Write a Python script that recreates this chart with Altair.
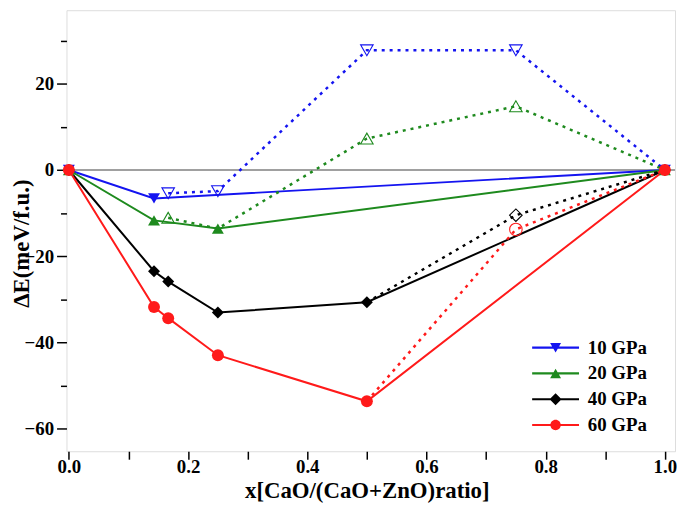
import altair as alt
import pandas as pd

series = ["10 GPa", "20 GPa", "40 GPa", "60 GPa"]
colors = ["#1414f0", "#1e8a1e", "#000000", "#ff1a1a"]

# stable compositions (solid hull)
x_10 = [0, 1/7, 1]
y_10 = [0, -6.6, 0]
x_20 = [0, 1/7, 0.25, 1]
y_20 = [0, -11.7, -13.6, 0]
x_40 = [0, 1/7, 1/6, 0.25, 0.5, 1]
y_40 = [0, -23.5, -25.9, -33.1, -30.7, 0]
x_60 = [0, 1/7, 1/6, 0.25, 0.5, 1]
y_60 = [0, -31.8, -34.4, -43.0, -53.7, 0]

# metastable path (dotted)
dx_10 = [1/6, 0.25, 0.5, 0.75, 1]
dy_10 = [-5.4, -4.9, 27.8, 27.8, 0]
dx_20 = [1/6, 0.25, 0.5, 0.75, 1]
dy_20 = [-11.1, -13.6, 7.3, 14.8, 0]
dx_40 = [0.5, 0.75, 1]
dy_40 = [-30.7, -10.5, 0]
dx_60 = [0.5, 0.75, 1]
dy_60 = [-53.7, -13.8, 0]

# open (metastable) markers
ox_10 = [1/6, 0.25, 0.5, 0.75]
oy_10 = [-5.4, -4.9, 27.8, 27.8]
ox_20 = [1/6, 0.5, 0.75]
oy_20 = [-11.1, 7.3, 14.8]
ox_40 = [0.75]
oy_40 = [-10.5]
ox_60 = [0.75]
oy_60 = [-13.8]

x_ticks = [round(i * 0.1, 1) for i in range(11)]
y_ticks = list(range(-60, 31, 10))


def frame(pairs):
    rows = []
    for s, xs, ys in pairs:
        for i, (a, b) in enumerate(zip(xs, ys)):
            rows.append({"series": s, "x": a, "y": b, "idx": i})
    return pd.DataFrame(rows)


solid_df = frame([(series[0], x_10, y_10), (series[1], x_20, y_20),
                  (series[2], x_40, y_40), (series[3], x_60, y_60)])
dash_df = frame([(series[0], dx_10, dy_10), (series[1], dx_20, dy_20),
                 (series[2], dx_40, dy_40), (series[3], dx_60, dy_60)])
open_df = frame([(series[0], ox_10, oy_10), (series[1], ox_20, oy_20),
                 (series[2], ox_40, oy_40), (series[3], ox_60, oy_60)])
legend_df = pd.DataFrame({"series": series, "x": [-1.0] * 4, "y": [0.0] * 4})
zero_df = pd.DataFrame({"y": [0.0]})

FONT = "Liberation Serif"

x_enc = alt.X(
    "x:Q",
    scale=alt.Scale(domain=[-0.004, 1.017], nice=False, zero=False),
    axis=alt.Axis(
        values=x_ticks,
        labelExpr="round(datum.value*10) % 2 === 0 ? format(datum.value, '.1f') : ''",
        tickSize=8, tickWidth=1.5, tickColor="black",
        labelPadding=-2, labelFlush=False, labelOverlap=False,
        labelFont=FONT, labelFontSize=19, labelFontWeight="bold", labelColor="black",
        domain=False, grid=False,
        title="x[CaO/(CaO+ZnO)ratio]",
        titleFont=FONT, titleFontSize=23, titleFontWeight="bold", titleColor="black",
        titleX=303, titleY=40, titleBaseline="middle",
    ),
)

y_enc = alt.Y(
    "y:Q",
    scale=alt.Scale(domain=[-65.3, 37.1], nice=False, zero=False),
    axis=alt.Axis(
        values=y_ticks,
        labelExpr="datum.value % 20 === 0 ? datum.label : ''",
        tickSize={"condition": {"test": "datum.value % 20 === 0", "value": 10}, "value": 6},
        tickWidth=1.5, tickColor="black",
        labelPadding=3, labelOverlap=False,
        labelFont=FONT, labelFontSize=19, labelFontWeight="bold", labelColor="black",
        domain=False, grid=False,
        title="ΔE(meV/f.u.)",
        titleFont=FONT, titleFontSize=23, titleFontWeight="bold", titleColor="black",
        titleX=-45, titleY=235, titleBaseline="middle",
    ),
)

color_scale = alt.Scale(domain=series, range=colors)
shape_scale = alt.Scale(domain=series, range=["triangle-down", "triangle-up", "diamond", "circle"])

bar_l = "M-4.3,-0.2H4.3V0.2H-4.3Z"
legend_shapes = [
    bar_l + "M-1,-0.866L1,-0.866L0,0.866Z",
    bar_l + "M0,-0.866L1,0.866L-1,0.866Z",
    bar_l + "M0,-1.1L1.1,0L0,1.1L-1.1,0Z",
    bar_l + "M-0.95,0A0.95,0.95 0 1 1 0.95,0A0.95,0.95 0 1 1 -0.95,0Z",
]
legend_shape_scale = alt.Scale(domain=series, range=legend_shapes)

zero = alt.Chart(zero_df).mark_rule(color="#808080", strokeWidth=1.5).encode(y=y_enc)

solid = alt.Chart(solid_df).mark_line(strokeWidth=2).encode(
    x=x_enc, y=y_enc,
    color=alt.Color("series:N", scale=color_scale, legend=None),
    order="idx:Q",
)

dashed = alt.Chart(dash_df).mark_line(strokeWidth=2.5, strokeDash=[3, 5]).encode(
    x=x_enc, y=y_enc,
    color=alt.Color("series:N", scale=color_scale, legend=None),
    order="idx:Q",
)

filled_pts = alt.Chart(solid_df).mark_point(filled=True, opacity=1, size=145, strokeWidth=0).encode(
    x=x_enc, y=y_enc,
    color=alt.Color("series:N", scale=color_scale, legend=None),
    shape=alt.Shape("series:N", scale=shape_scale, legend=None),
)

open_pts = alt.Chart(open_df).mark_point(filled=False, opacity=1, size=160, strokeWidth=1.1).encode(
    x=x_enc, y=y_enc,
    color=alt.Color("series:N", scale=color_scale, legend=None),
    shape=alt.Shape("series:N", scale=shape_scale, legend=None),
)

leg_props = dict(
    orient="none", legendX=484, legendY=331, title=None,
    symbolSize=121, labelOffset=23, rowPadding=6,
    labelFont=FONT, labelFontSize=19, labelFontWeight="bold", labelColor="black",
    symbolStrokeWidth=0, symbolOpacity=1,
)

legend_layer = alt.Chart(legend_df).mark_point(filled=True, opacity=1, size=121, clip=True).encode(
    x=x_enc, y=y_enc,
    color=alt.Color("series:N", scale=color_scale, legend=alt.Legend(**leg_props)),
    shape=alt.Shape("series:N", scale=legend_shape_scale, legend=alt.Legend(**leg_props)),
)

chart = (
    alt.layer(zero, solid, dashed, open_pts, filled_pts, legend_layer)
    .resolve_scale(color="independent", shape="independent")
    .properties(
        width=614, height=445,
        autosize=alt.AutoSizeParams(type="none"),
        padding={"left": 59, "top": 0, "right": 2, "bottom": 53},
    )
    .configure_view(stroke="black", strokeWidth=1.5)
    .configure(background="white")
)

chart.save("out.html", embed_options={"renderer": "svg", "actions": False})
